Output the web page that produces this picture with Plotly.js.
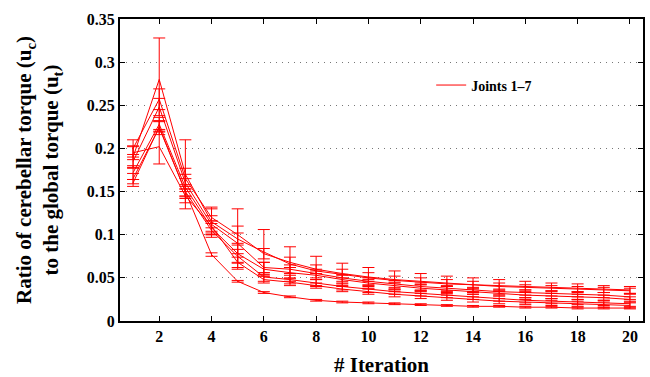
<!DOCTYPE html>
<html>
<head>
<meta charset="utf-8">
<script src="https://cdn.plot.ly/plotly-3.0.1.min.js"></script>
<style>html,body{margin:0;padding:0;background:#fff;}#chart{width:650px;height:377px;}</style>
</head>
<body>
<div id="chart"></div>
<script>
const iterations = [1,2,3,4,5,6,7,8,9,10,11,12,13,14,15,16,17,18,19,20];

const joint1 = [0.190,0.280,0.170,0.115,0.095,0.080,0.066,0.058,0.054,0.050,0.047,0.045,0.043,0.042,0.041,0.040,0.039,0.038,0.037,0.036];
const joint2 = [0.200,0.257,0.165,0.120,0.100,0.078,0.068,0.060,0.055,0.051,0.048,0.046,0.044,0.042,0.040,0.039,0.038,0.037,0.036,0.035];
const joint3 = [0.185,0.248,0.160,0.112,0.090,0.062,0.060,0.055,0.050,0.046,0.043,0.040,0.038,0.036,0.034,0.033,0.032,0.031,0.030,0.028];
const joint4 = [0.172,0.228,0.155,0.108,0.078,0.060,0.056,0.053,0.048,0.044,0.041,0.038,0.036,0.034,0.032,0.030,0.029,0.028,0.027,0.025];
const joint5 = [0.165,0.224,0.150,0.105,0.075,0.051,0.048,0.044,0.040,0.037,0.034,0.032,0.030,0.028,0.026,0.024,0.023,0.022,0.021,0.020];
const joint6 = [0.195,0.202,0.145,0.110,0.068,0.048,0.045,0.041,0.037,0.034,0.031,0.029,0.027,0.025,0.023,0.022,0.021,0.020,0.019,0.018];
const joint7 = [0.160,0.225,0.150,0.077,0.046,0.033,0.028,0.024,0.022,0.021,0.020,0.019,0.018,0.017,0.017,0.016,0.016,0.015,0.015,0.015];

const err1 = [0.012,0.048,0.040,0.015,0.035,0.026,0.020,0.017,0.013,0.012,0.011,0.010,0.009,0.008,0.007,0.006,0.005,0.005,0.004,0.004];
const err2 = [0.010,0.012,0.012,0.012,0.010,0.006,0.006,0.005,0.005,0.005,0.004,0.004,0.004,0.004,0.004,0.003,0.003,0.003,0.003,0.003];
const err3 = [0.008,0.010,0.010,0.010,0.012,0.006,0.005,0.005,0.004,0.004,0.004,0.004,0.003,0.003,0.003,0.003,0.003,0.003,0.003,0.003];
const err4 = [0.008,0.008,0.010,0.008,0.010,0.008,0.006,0.005,0.005,0.004,0.004,0.004,0.004,0.003,0.003,0.003,0.003,0.003,0.003,0.003];
const err5 = [0.006,0.008,0.008,0.008,0.008,0.005,0.005,0.004,0.004,0.004,0.003,0.003,0.003,0.003,0.003,0.003,0.003,0.003,0.003,0.003];
const err6 = [0.008,0.020,0.008,0.006,0.006,0.004,0.004,0.003,0.003,0.003,0.003,0.003,0.003,0.003,0.003,0.003,0.003,0.003,0.003,0.003];
const err7 = [0.004,0.006,0.006,0.002,0.001,0.001,0.001,0.001,0.001,0.001,0.001,0.001,0.001,0.001,0.001,0.001,0.001,0.001,0.001,0.001];

const seriesValues = [joint1, joint2, joint3, joint4, joint5, joint6, joint7];
const seriesErrors = [err1, err2, err3, err4, err5, err6, err7];
const legendLabel = 'Joints 1\u20137';
const xTickVals = [2,4,6,8,10,12,14,16,18,20];
const yTickVals = [0,0.05,0.1,0.15,0.2,0.25,0.3,0.35];
const yTickText = ['0','0.05','0.1','0.15','0.2','0.25','0.3','0.35'];

const traces = seriesValues.map((vals, i) => ({
  x: iterations,
  y: vals,
  type: 'scatter',
  mode: 'lines',
  name: legendLabel,
  showlegend: i === 0,
  line: {color: '#ff0000', width: 1},
  error_y: {type: 'data', array: seriesErrors[i], visible: true, color: '#ff0000', thickness: 1, width: 6}
}));

const fam = 'Liberation Serif';

const layout = {
  width: 650, height: 377,
  margin: {l: 120, r: 7, t: 19, b: 56},
  paper_bgcolor: '#fff', plot_bgcolor: '#fff',
  font: {family: fam, size: 15, weight: 'bold', color: '#000'},
  showlegend: true,
  legend: {x: 0.595, y: 0.78, xanchor: 'left', yanchor: 'middle', bgcolor: 'rgba(0,0,0,0)',
           font: {family: fam, size: 14, weight: 'bold', color: '#000'}},
  xaxis: {
    range: [0.5, 20.5], tickvals: xTickVals, ticks: 'inside', ticklen: 5, tickcolor: '#000',
    showline: true, linecolor: '#000', linewidth: 2, mirror: 'ticks', showgrid: false, zeroline: false,
    tickfont: {family: fam, size: 16, weight: 'bold', color: '#000'},
    title: {text: '# Iteration', font: {family: fam, size: 21, weight: 'bold', color: '#000'}, standoff: 15}
  },
  yaxis: {
    range: [0, 0.35], tickvals: yTickVals, ticktext: yTickText, ticks: 'inside', ticklen: 5, tickcolor: '#000',
    showline: true, linecolor: '#000', linewidth: 2, mirror: 'ticks',
    showgrid: true, gridcolor: '#777', griddash: '1px,5px', gridwidth: 1, zeroline: false,
    tickfont: {family: fam, size: 16, weight: 'bold', color: '#000'},
    title: {text: 'Ratio of cerebellar torque (u<sub>c</sub>)<br>to the global torque (u<sub>t</sub>)',
            font: {family: fam, size: 21, weight: 'bold', color: '#000'}, standoff: 22}
  }
};

Plotly.newPlot('chart', traces, layout, {staticPlot: true, displayModeBar: false});
</script>
</body>
</html>
